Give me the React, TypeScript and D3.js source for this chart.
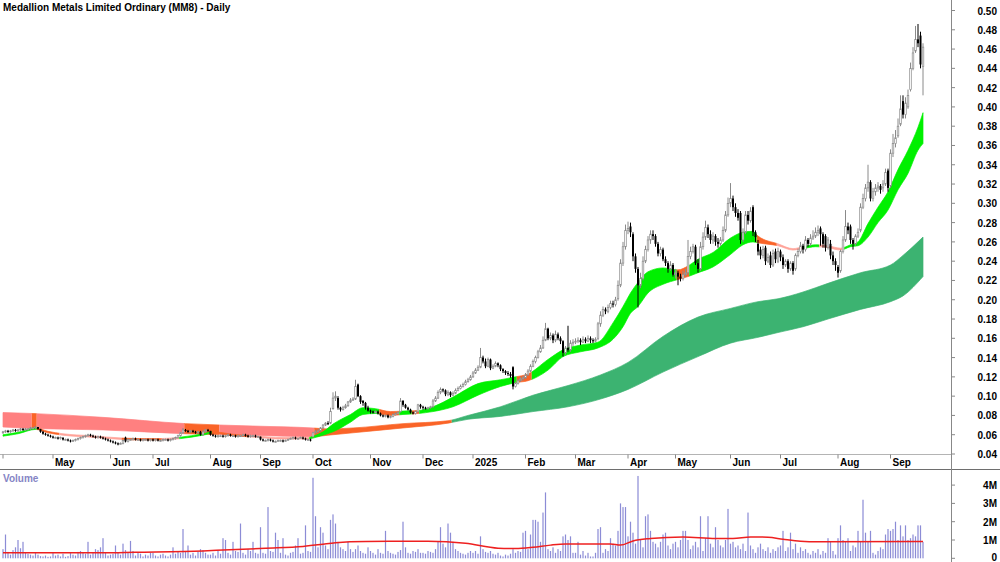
import React from "react";
import * as d3 from "d3";

const W = 1000;
const H = 562;

// ---- trading calendar (ASX) ----
const FIRST_DAY = "2024-04-02";
const LAST_DAY = "2025-09-18";
const HOLIDAYS = [
  "2024-04-25", "2024-06-10", "2024-12-25", "2024-12-26", "2025-01-01",
  "2025-01-27", "2025-04-18", "2025-04-21", "2025-04-25", "2025-06-09",
];
// days with no bar on the chart
const HALTS = ["2024-06-24", "2024-06-25", "2024-08-26", "2024-08-27"];

const TICK_LABELS = [
  "May", "Jun", "Jul", "Aug", "Sep", "Oct", "Nov", "Dec", "2025",
  "Feb", "Mar", "Apr", "May", "Jun", "Jul", "Aug", "Sep",
];

// ---- prices, in tenths of a cent ----
const OPEN = [
  62,63,64,63,64,65,64,65,66,65,66,66,67,67,68,66,63,61,60,59,
  58,57,57,56,57,55,55,54,53,54,55,56,57,58,59,60,59,58,57,58,57,56,55,
  54,53,52,51,50,51,57,53,55,55,56,55,55,54,55,55,54,
  55,54,55,54,54,55,55,54,55,56,57,59,62,65,64,63,64,63,62,63,60,63,65,
  64,60,59,58,59,59,58,59,60,59,59,58,59,59,60,59,58,59,59,58,
  58,55,54,54,55,54,53,53,54,54,53,54,55,56,57,56,56,57,56,55,55,
  58,62,63,64,67,70,72,72,87,98,98,88,86,88,90,94,96,97,112,100,95,93,88,
  85,84,83,84,82,80,79,80,78,79,81,82,84,95,91,88,86,83,82,84,91,
  89,88,87,88,89,95,98,104,107,106,102,104,101,103,106,108,110,112,115,117,
  120,124,127,130,140,136,131,138,129,131,134,132,128,126,124,123,130,110,113,116,118,
  119,122,126,131,136,140,146,150,158,170,160,163,158,164,160,157,145,150,148,155,
  156,157,158,156,159,157,160,158,157,160,175,184,190,188,192,196,195,201,215,238,255,
  272,276,268,245,232,215,222,240,252,262,268,266,258,248,252,242,238,232,236,
  226,228,224,222,226,228,245,250,255,238,232,255,265,275,268,262,266,260,258,262,272,288,
  300,305,296,290,290,262,270,288,282,296,270,258,252,246,254,240,246,236,250,240,
  250,244,236,240,232,238,232,246,250,256,252,262,258,264,266,270,274,268,266,254,258,246,240,
  234,230,250,262,276,276,262,258,266,272,296,305,316,322,305,312,316,318,316,320,334,
  318,352,362,370,382,406,392,400,418,440,458,470,474,442,
];
const HIGH = [
  64,65,65,65,66,66,66,67,67,67,67,68,68,69,68,66,64,62,61,60,
  59,58,58,58,57,56,56,55,55,56,57,58,59,60,61,61,60,59,59,59,58,57,56,
  55,54,53,52,52,55,58,56,56,57,57,56,56,56,56,56,56,
  56,56,56,55,56,56,56,56,57,58,60,63,67,66,65,65,65,64,64,64,65,66,66,
  64,61,60,60,60,60,60,61,61,60,60,60,60,61,61,60,60,60,60,59,
  58,56,55,56,56,55,54,55,55,55,55,56,57,58,58,57,58,58,57,56,56,
  63,65,66,68,71,73,74,88,104,105,100,89,90,92,95,98,99,117,113,101,96,94,90,
  86,85,85,85,83,81,81,81,80,82,83,84,98,96,92,89,87,84,85,92,92,
  90,89,89,90,97,100,106,109,108,107,106,105,105,108,110,112,114,117,119,122,
  126,129,132,150,142,139,140,139,133,136,135,133,129,127,126,125,131,115,118,120,121,
  124,128,133,138,142,148,153,162,176,171,166,165,168,166,162,158,152,173,158,159,
  160,161,160,162,161,163,162,160,161,177,188,193,192,195,199,199,203,220,242,260,278,
  281,280,270,248,234,228,245,256,266,272,272,268,260,255,254,245,240,240,238,
  232,230,227,230,232,262,255,258,257,242,260,270,282,278,272,270,268,264,265,276,292,306,
  321,308,300,294,292,274,292,292,296,298,272,262,255,256,256,248,250,252,253,254,
  252,247,242,242,240,240,248,253,260,258,266,264,268,272,275,277,276,270,268,265,262,250,243,
  236,252,266,293,280,278,264,268,274,300,310,320,340,324,316,320,322,320,324,336,336,
  356,372,376,388,412,412,410,418,446,462,484,486,478,466,
];
const LOW = [
  61,62,62,62,63,63,63,64,64,64,65,65,66,66,65,62,60,59,58,57,
  56,56,55,55,54,54,53,52,53,53,54,55,56,57,58,58,57,56,56,56,55,54,53,
  52,51,50,49,50,50,52,52,54,54,54,54,53,53,54,53,53,
  53,53,53,53,53,54,53,53,54,55,56,58,61,63,62,62,62,61,61,59,59,62,63,
  59,58,57,57,58,57,57,58,58,58,57,57,58,58,58,57,57,58,57,57,
  54,53,53,53,53,52,52,53,53,52,53,54,55,55,55,55,56,55,54,54,53,
  57,61,62,63,66,69,70,71,86,95,86,84,85,87,89,93,95,96,99,92,90,86,84,
  82,82,82,81,79,78,78,77,77,78,80,81,83,89,87,85,82,81,81,83,87,
  86,86,86,87,88,94,97,102,104,100,100,99,100,102,105,107,109,111,114,116,
  119,123,126,129,134,129,130,127,128,130,130,126,124,122,121,119,107,109,112,115,116,
  118,121,125,130,134,139,145,149,157,158,158,155,156,158,154,141,143,146,146,152,
  154,155,153,155,155,156,155,155,156,158,172,182,185,186,190,192,193,199,213,235,252,
  268,265,240,228,192,212,220,238,250,258,262,255,245,245,240,235,228,230,224,
  222,215,219,220,224,226,242,248,236,228,230,252,262,264,258,258,256,254,256,260,270,286,
  296,292,286,282,258,260,268,278,280,266,260,246,242,243,236,238,233,234,238,238,
  240,232,234,228,230,226,230,244,248,248,250,255,256,262,264,266,256,254,250,252,242,236,230,
  223,228,248,260,268,258,252,256,264,270,294,302,312,302,302,308,312,310,312,318,312,
  316,348,358,368,380,388,388,398,416,438,456,462,440,412,
];
const CLOSE = [
  63,64,63,64,65,64,65,66,65,66,66,67,67,68,66,63,61,60,59,58,
  57,57,56,57,55,55,54,53,54,55,56,57,58,59,60,59,58,57,58,57,56,55,54,
  53,52,51,50,51,54,53,55,55,56,55,55,54,55,55,54,55,
  54,55,54,54,55,55,54,55,56,57,59,62,65,64,63,64,63,62,63,60,63,65,64,
  60,59,58,59,59,58,59,60,59,59,58,59,59,60,59,58,59,59,58,58,
  55,54,54,55,54,53,53,54,54,53,54,55,56,57,56,56,57,56,55,55,54,
  62,63,64,67,70,72,71,84,98,100,88,86,88,90,94,96,97,110,100,94,93,88,85,
  84,83,84,82,80,79,80,78,79,81,82,83,95,91,88,86,83,82,84,91,89,
  88,87,88,89,95,98,104,107,106,102,104,101,103,106,108,110,112,115,117,120,
  124,127,130,140,136,131,138,129,131,134,132,128,126,124,123,121,110,113,116,118,119,
  122,126,131,136,140,146,150,158,170,160,163,158,164,160,157,145,150,148,155,156,
  157,158,156,159,157,160,158,157,159,175,184,190,188,192,196,195,200,215,238,255,272,
  274,270,245,232,215,222,240,252,262,268,266,258,248,252,242,238,232,236,226,
  228,224,222,226,228,245,250,255,238,232,255,265,275,268,262,266,260,258,262,272,288,300,
  305,296,290,285,262,270,288,282,292,270,265,250,246,252,240,244,236,248,242,250,
  244,236,240,232,238,230,246,250,256,252,262,258,264,266,270,272,268,258,254,262,246,240,236,
  228,250,262,276,272,262,258,266,270,296,305,316,322,305,312,316,318,314,320,332,316,
  352,362,368,380,398,392,404,412,440,456,470,466,444,462,
];

// ---- volume, thousands of shares ----
const VOLUME = [
  500,1300,350,200,450,600,1000,550,900,300,250,200,150,300,200,120,100,150,80,100,
  300,150,200,100,250,80,120,300,200,150,350,400,300,250,900,200,300,500,450,600,1100,300,150,
  200,250,700,300,200,800,450,300,950,400,150,300,250,100,200,150,300,
  300,150,100,200,250,150,100,200,600,250,350,300,1600,400,700,200,300,150,350,500,450,300,200,
  200,300,150,400,250,1100,1000,300,200,900,400,350,1900,300,200,500,400,900,300,250,
  1700,300,250,2800,400,350,1400,1000,300,1100,200,150,300,350,700,1100,250,300,1800,400,350,
  4400,2300,600,1700,1400,700,500,2100,2400,1900,900,600,500,400,900,500,350,500,700,400,300,250,600,
  400,300,200,500,300,250,1500,400,300,250,200,350,450,2000,600,300,250,400,350,500,300,
  300,250,400,350,300,500,900,1700,800,600,1900,1400,900,500,400,300,250,200,300,400,
  300,400,250,1200,500,350,300,400,250,200,300,150,100,200,150,250,500,300,400,350,1400,
  1500,500,1300,2100,2100,2000,900,2500,3600,500,400,600,300,500,400,1200,1300,1000,1200,300,
  300,900,200,400,150,300,100,100,300,1600,1700,300,500,400,1100,800,700,1500,3000,2800,2800,
  1200,2000,1400,800,4500,1000,600,2300,2400,1500,900,800,600,900,1300,1400,700,500,800,
  900,600,1000,1500,1500,1000,500,700,900,600,2300,400,1100,2300,800,600,1700,1000,700,600,1000,2700,
  800,900,600,700,500,800,400,2500,700,500,300,600,800,500,400,600,300,500,400,600,
  700,1500,400,600,1400,500,800,300,600,400,500,300,200,400,300,500,200,400,300,1100,900,400,200,
  1100,1800,1000,900,1100,400,700,600,1500,900,3200,1400,900,1500,300,200,400,600,500,1300,1600,
  1500,1600,2000,1000,1800,1200,1800,1000,1100,1300,1200,1800,1800,900,
];

// volume average (millions), read at bar indices
const VOLMA_IDX = [0,40,53,80,88,105,120,127,133,145,170,185,198,205,212,219,225,243,247,252,259,272,285,292,299,306,312,319,326,368];
const VOLMA = [0.3,0.3,0.33,0.4,0.45,0.55,0.65,0.75,0.85,0.92,0.93,0.82,0.55,0.53,0.6,0.72,0.78,0.78,0.72,0.95,1.08,1.17,1.08,1.08,1.17,1.15,1.04,0.93,0.9,0.92];

// short-term moving average band (tenths of a cent), at bar indices
const SHORT_IDX = [0,6,13,18,24,35,48,56,63,71,80,84,92,100,112,122,124,128,132,139,144,149,155,160,166,172,180,190,199,205,210,218,224,231,238,244,248,251,254,258,264,270,274,278,284,291,296,300,302,310,316,320,325,330,335,339,342,346,350,354,358,362,366,368];
const SHORT_LO = [58.5,61,65.5,62,59.5,57.5,55,54.5,54.5,56,59.5,61.5,59,57.5,55.5,55.5,56.5,59.5,63,73,81,82,80,81,82,84,89,101,110,114,116,127,141,146,150,159,172,186,193,207,216,221,224,228,234,247,257,260,259,256,251.5,253,255,254,251.5,255,256,265,280,293,314,331,355,362];
const SHORT_HI = [60,62.5,67,63.5,61,59,56.5,56,56,57.5,61,63,60.5,59,57,57,58.5,63,71,81,88,87,84,84.5,85,89,99,113,117,120,123,138,148,153,156,176,193,207,218,229,233,231,235,242,249,264,270,271,266,258,253,255,257,256,253.5,257,260,279,296,312,335,355,379,394];
const SHORT_SEG_START = [0,14,23,48,64,71,84,99,123,151,159,164,167,206,212,270,275,302,310,321,327,337];
const SHORT_SEG_COLOR = ["G","O","P","O","P","G","O","P","G","O","G","O","G","O","G","O","G","O","P","G","P","G"];

// long-term moving average band
const LONG_IDX = [0,12,40,73,100,124,130,140,160,178,186,199,212,226,239,250,264,278,291,302,310,320,330,343,355,360,368];
const LONG_LO = [68,66.5,65,61,59.5,58,59.5,62,67,72,76,79,84,89,97,107,125,141,155,161,166,172,180,190,198,204,224];
const LONG_HI = [83,82,78,71.5,69,67,66,67,71.5,74.5,80,89,101,111,122,135,162,182,191,198,201,208,217,228,236,246,265];
const LONG_SEG_START = [0,12,14,73,87,125,180];
const LONG_SEG_COLOR = ["R","O","R","O","R","O","D"];

const PRICE_TICKS = [0.04,0.06,0.08,0.1,0.12,0.14,0.16,0.18,0.2,0.22,0.24,0.26,0.28,0.3,0.32,0.34,0.36,0.38,0.4,0.42,0.44,0.46,0.48,0.5];
const VOL_TICKS = [0, 1, 2, 3, 4];
const VOL_LABELS = ["0", "1M", "2M", "3M", "4M"];

const COLORS: Record<string, string> = {
  G: "#00f000",
  O: "#fa6428",
  P: "#ffa49a",
  R: "#ff8080",
  D: "#3cb371",
};

const FONT = "'Liberation Sans', Arial, Helvetica, sans-serif";

const parse = d3.utcParse("%Y-%m-%d");
const key = d3.utcFormat("%Y-%m-%d");

function tradingDays(): Date[] {
  const skip = new Set([...HOLIDAYS, ...HALTS]);
  const start = parse(FIRST_DAY) as Date;
  const end = parse(LAST_DAY) as Date;
  return d3.utcDay
    .range(start, d3.utcDay.offset(end, 1))
    .filter((d) => d.getUTCDay() !== 0 && d.getUTCDay() !== 6 && !skip.has(key(d)));
}

const DATES = tradingDays();
const N = Math.min(DATES.length, CLOSE.length);

const bars = d3.range(N).map((i) => ({
  i,
  o: OPEN[i] / 1000,
  h: HIGH[i] / 1000,
  l: LOW[i] / 1000,
  c: CLOSE[i] / 1000,
  v: VOLUME[i] / 1000,
}));

const x = d3.scaleLinear().domain([0, N - 1]).range([3, 923]);
const y = d3.scaleLinear().domain([0.04, 0.5]).range([454, 10.5]);
const yv = d3.scaleLinear().domain([0, 4]).range([558.3, 485.1]);
const STEP = x(1) - x(0);
const AXIS_X = 951;

type BandProps = {
  id: string;
  idx: number[];
  lo: number[];
  hi: number[];
  segStart: number[];
  segColor: string[];
};

function Band({ id, idx, lo, hi, segStart, segColor }: BandProps) {
  const pts = idx.map((k, j) => ({ i: k, lo: lo[j] / 1000, hi: hi[j] / 1000 }));
  const area = d3
    .area<{ i: number; lo: number; hi: number }>()
    .x((p) => x(p.i))
    .y0((p) => y(p.lo))
    .y1((p) => y(p.hi))
    .curve(d3.curveMonotoneX);
  const d = area(pts) || "";
  const segs = segStart.map((s, k) => ({
    s,
    e: k < segStart.length - 1 ? segStart[k + 1] - 1 : N - 1,
    color: COLORS[segColor[k]],
  }));
  return (
    <g>
      <defs>
        {segs.map((sg, k) => (
          <clipPath id={`${id}-${k}`} key={k}>
            <rect x={x(sg.s) - STEP / 2} y={0} width={x(sg.e) - x(sg.s) + STEP} height={H} />
          </clipPath>
        ))}
      </defs>
      {segs.map((sg, k) => (
        <path
          key={k}
          d={d}
          fill={sg.color}
          stroke={sg.color}
          strokeWidth={0.7}
          clipPath={`url(#${id}-${k})`}
        />
      ))}
    </g>
  );
}

export default function App() {
  const monthStarts = bars
    .filter((b) => b.i > 0 && DATES[b.i].getUTCMonth() !== DATES[b.i - 1].getUTCMonth())
    .map((b) => b.i);

  const volLine = d3
    .line<number>()
    .x((_, j) => x(VOLMA_IDX[j]))
    .y((v) => yv(v))
    .curve(d3.curveMonotoneX);

  return (
    <svg
      width={W}
      height={H}
      viewBox={`0 0 ${W} ${H}`}
      style={{ position: "absolute", left: 0, top: 0, background: "#fff" }}
      fontFamily={FONT}
      fontWeight="bold"
      fontSize={10}
    >
      <rect width={W} height={H} fill="#fff" />

      {/* moving average bands */}
      <Band id="lb" idx={LONG_IDX} lo={LONG_LO} hi={LONG_HI} segStart={LONG_SEG_START} segColor={LONG_SEG_COLOR} />
      <Band id="sb" idx={SHORT_IDX} lo={SHORT_LO} hi={SHORT_HI} segStart={SHORT_SEG_START} segColor={SHORT_SEG_COLOR} />

      {/* candles */}
      <g>
        {bars.map((b) => {
          const up = b.c >= b.o;
          const top = y(Math.max(b.o, b.c));
          const bot = y(Math.min(b.o, b.c));
          const cx = x(b.i);
          const col = up ? "#8a8a8a" : "#000";
          return (
            <g key={b.i}>
              <line x1={cx} x2={cx} y1={y(b.h)} y2={y(b.l)} stroke={col} strokeWidth={1} />
              {up ? (
                <rect x={cx - 0.8} y={top} width={1.6} height={Math.max(1, bot - top)} fill="#fff" stroke={col} strokeWidth={0.7} />
              ) : (
                <rect x={cx - 1} y={top} width={2} height={Math.max(1, bot - top)} fill="#000" />
              )}
            </g>
          );
        })}
      </g>

      {/* title */}
      <text x={3} y={11} fill="#000">
        Medallion Metals Limited Ordinary (MM8) - Daily
      </text>

      {/* price x axis */}
      <line x1={0} x2={AXIS_X} y1={454.5} y2={454.5} stroke="#b4b4b4" />
      <line x1={x(0)} x2={x(0)} y1={454.5} y2={458.5} stroke="#888" />
      {monthStarts.map((i, k) => (
        <g key={i}>
          <line x1={x(i)} x2={x(i)} y1={454.5} y2={458.5} stroke="#888" />
          <text x={x(i) + 2} y={466} fill="#000">
            {TICK_LABELS[k]}
          </text>
        </g>
      ))}
      <line x1={0} x2={W} y1={469.5} y2={469.5} stroke="#6e6e6e" />

      {/* right axis */}
      <line x1={AXIS_X + 0.5} x2={AXIS_X + 0.5} y1={0} y2={H} stroke="#888" />
      {PRICE_TICKS.map((t) => (
        <g key={t}>
          <line x1={AXIS_X} x2={AXIS_X + 4} y1={y(t)} y2={y(t)} stroke="#888" />
          <text x={997} y={y(t) + 4} textAnchor="end" fill="#000">
            {d3.format(".2f")(t)}
          </text>
        </g>
      ))}

      {/* volume */}
      <text x={3} y={482} fill="#8585c5">
        Volume
      </text>
      <g fill="#8c8cd6">
        {bars.map((b) => (
          <rect key={b.i} x={x(b.i) - 0.6} y={yv(b.v)} width={1.2} height={yv(0) - yv(b.v)} />
        ))}
      </g>
      <path d={volLine(VOLMA) || ""} fill="none" stroke="#ee2020" strokeWidth={1.5} />
      {VOL_TICKS.map((t, k) => (
        <g key={t}>
          <line x1={AXIS_X} x2={AXIS_X + 4} y1={yv(t)} y2={yv(t)} stroke="#888" />
          <text x={997} y={Math.min(yv(t) + 4, 560.5)} textAnchor="end" fill="#000">
            {VOL_LABELS[k]}
          </text>
        </g>
      ))}
    </svg>
  );
}
